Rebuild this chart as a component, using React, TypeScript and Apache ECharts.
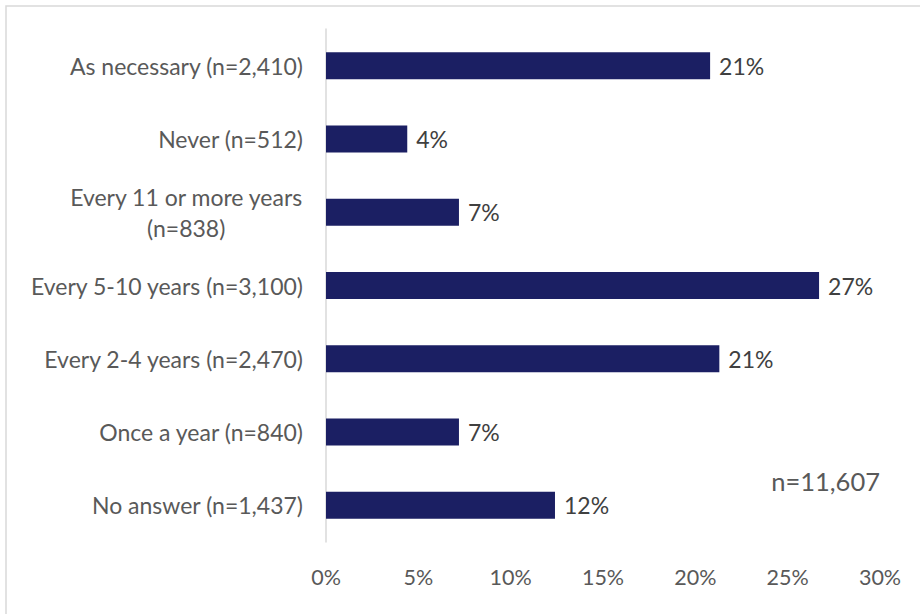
import React, { useEffect, useRef } from "react";
import * as echarts from "echarts";

const categories = [
  "As necessary (n=2,410)",
  "Never (n=512)",
  "Every 11 or more years\n(n=838)",
  "Every 5-10 years (n=3,100)",
  "Every 2-4 years (n=2,470)",
  "Once a year (n=840)",
  "No answer (n=1,437)",
];
const values = [20.8, 4.4, 7.2, 26.7, 21.3, 7.2, 12.4];
const xTicks = { min: 0, max: 30, interval: 5 };
const totalLabel = "n=11,607";

const FONT = "Lato, 'Open Sans', sans-serif";

export default function App() {
  const ref = useRef<HTMLDivElement>(null);
  useEffect(() => {
    if (!ref.current) return;
    const chart = echarts.init(ref.current, undefined, { renderer: "svg" });
    chart.setOption({
      animation: false,
      backgroundColor: "#ffffff",
      textStyle: { fontFamily: FONT },
      grid: { left: 326, right: 40, top: 29, bottom: 72, containLabel: false },
      xAxis: {
        type: "value",
        min: xTicks.min,
        max: xTicks.max,
        interval: xTicks.interval,
        axisLine: { show: false },
        axisTick: { show: false },
        splitLine: { show: false },
        axisLabel: {
          formatter: "{value}%",
          color: "#595959",
          fontSize: 21.5,
          fontFamily: FONT,
          margin: 24,
        },
      },
      yAxis: {
        type: "category",
        data: categories,
        inverse: true,
        axisLine: { show: true, lineStyle: { color: "#d9d9d9", width: 1.5 } },
        axisTick: { show: false },
        axisLabel: {
          margin: 23,
          color: "#595959",
          fontSize: 23,
          fontFamily: FONT,
          lineHeight: 31,
          formatter: (v: string) =>
            v.includes("\n")
              ? v
                  .split("\n")
                  .map((s) => `{c|${s}}`)
                  .join("\n")
              : v,
          rich: {
            c: {
              align: "center",
              color: "#595959",
              fontSize: 23,
              fontFamily: FONT,
              lineHeight: 31,
            },
          },
        },
      },
      series: [
        {
          type: "bar",
          data: values,
          barWidth: 27,
          itemStyle: { color: "#1b1f63" },
          label: {
            show: true,
            position: "right",
            distance: 9,
            formatter: (p: any) => `${Math.round(p.value)}%`,
            color: "#404040",
            fontSize: 23,
            fontFamily: FONT,
          },
        },
      ],
      graphic: [
        {
          type: "rect",
          shape: { x: 6, y: 6, width: 960, height: 660 },
          style: { fill: "none", stroke: "#d9d9d9", lineWidth: 1.5 },
          silent: true,
        },
        {
          type: "text",
          x: 880,
          y: 481,
          style: {
            text: totalLabel,
            fill: "#595959",
            fontSize: 25.5,
            fontFamily: FONT,
            textAlign: "right",
            textVerticalAlign: "middle",
          },
        },
      ],
    });
    return () => chart.dispose();
  }, []);
  return (
    <div
      ref={ref}
      style={{ position: "fixed", left: 0, top: 0, width: 920, height: 614 }}
    />
  );
}
